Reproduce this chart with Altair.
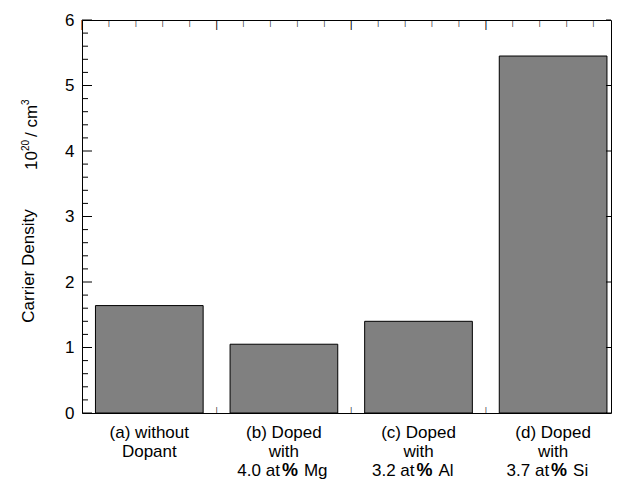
import altair as alt
import pandas as pd

# ---- data ----
categories = ["a", "b", "c", "d"]
line1 = ["(a) without", "(b) Doped", "(c) Doped", "(d) Doped"]
line2 = ["Dopant", "with", "with", "with"]
amount = ["", "4.0 at", "3.2 at", "3.7 at"]
element = ["", "Mg", "Al", "Si"]
density = [1.64, 1.05, 1.40, 5.45]

y_major = [0, 1, 2, 3, 4, 5, 6]
y_minor = [round(i * 0.2, 1) for i in range(31) if i % 5]
x_minor_offsets = [0.2, 0.4, 0.6, 0.8]   # minor ticks inside each category slot

y_title = "Carrier Density"
unit_base, unit_exp, unit_mid, unit_exp2 = "10", "20", "/ cm", "3"

FONT = "Liberation Sans"
FS = 17
W, H = 529, 393
XMAX, YMAX = 3.93, 6

df = pd.DataFrame({
    "cat": categories,
    "idx": list(range(len(categories))),
    "line1": line1,
    "line2": line2,
    "amount": amount,
    "element": element,
    "density": density,
})
df["label12"] = df["line1"] + "\n" + df["line2"]

base = alt.Chart(df).transform_calculate(
    center="datum.idx + 0.5", x0="datum.idx + 0.1", x1="datum.idx + 0.9"
)

xscale = alt.Scale(domain=[0, XMAX], nice=False, zero=False)
yscale = alt.Scale(domain=[0, YMAX], nice=False, zero=True)

label_axis = alt.Axis(orient="left", values=y_major, ticks=False, domain=False,
                      grid=False, title=None, labelFont=FONT, labelFontSize=FS,
                      labelColor="black", labelPadding=8)

bars = base.mark_bar(color="#808080", stroke="black", strokeWidth=1).encode(
    x=alt.X("x0:Q", scale=xscale, axis=None),
    x2="x1:Q",
    y=alt.Y("density:Q", scale=yscale, axis=label_axis),
    y2=alt.datum(0),
)


def yticks(values, a, b):
    return alt.Chart(pd.DataFrame({"v": values})).mark_rule(
        color="black", strokeWidth=1).encode(
        y=alt.Y("v:Q", scale=yscale, axis=label_axis),
        x=alt.value(a), x2=alt.value(b))


# x ticks: drawn as "|" glyphs placed through the x scale
def xticks(chart, ycenter, size):
    return chart.mark_text(text="|", font=FONT, fontSize=size, align="center",
                           baseline="middle", color="black").encode(
        x=alt.X("tv:Q", scale=xscale, axis=None),
        y=alt.value(ycenter))


top_major = xticks(base.transform_calculate(tv="datum.idx"), 5, 11)
top_minor = xticks(
    base.transform_calculate(m=str(x_minor_offsets))
    .transform_flatten(["m"]).transform_calculate(tv="datum.idx + datum.m"), 3, 7)
bottom = xticks(
    base.transform_filter("datum.idx > 0").transform_calculate(tv="datum.idx"),
    H - 3, 7)

tick_layers = [
    top_major, top_minor, bottom,
    yticks(y_major, 0, 10),
    yticks(y_minor, 0, 6),
    yticks(y_major, W - 5, W),
]

lab12 = base.mark_text(font=FONT, fontSize=FS, lineBreak="\n", lineHeight=19,
                       align="center", baseline="alphabetic", color="black").encode(
    x=alt.X("center:Q", scale=xscale, axis=None),
    y=alt.value(418),
    text="label12:N",
)

l3 = base.transform_filter("datum.element != ''")
L3Y = 456
lab3a = l3.mark_text(font=FONT, fontSize=FS, align="right", baseline="alphabetic",
                     dx=-4, color="black").encode(
    x=alt.X("center:Q", scale=xscale, axis=None), y=alt.value(L3Y), text="amount:N")
lab3b = l3.mark_text(font=FONT, fontSize=18, fontWeight="bold", align="center",
                     baseline="alphabetic", dx=6, color="black").encode(
    x=alt.X("center:Q", scale=xscale, axis=None), y=alt.value(L3Y), text=alt.value("%"))
lab3c = l3.mark_text(font=FONT, fontSize=FS, align="left", baseline="alphabetic",
                     dx=20, color="black").encode(
    x=alt.X("center:Q", scale=xscale, axis=None), y=alt.value(L3Y), text="element:N")

tdf = pd.DataFrame({"t": [y_title], "u0": [unit_base], "u1": [unit_exp],
                    "u2": [unit_mid], "u3": [unit_exp2]})
tbase = alt.Chart(tdf)
ytitle = tbase.mark_text(font=FONT, fontSize=FS, angle=270, align="center",
                         baseline="alphabetic", color="black").encode(
    x=alt.value(-48), y=alt.value(246), text="t:N")
u0 = tbase.mark_text(font=FONT, fontSize=FS, angle=270, align="left",
                     baseline="alphabetic", color="black").encode(
    x=alt.value(-45), y=alt.value(150), text="u0:N")
u1 = tbase.mark_text(font=FONT, fontSize=10, angle=270, align="left",
                     baseline="alphabetic", dx=19, dy=-8, color="black").encode(
    x=alt.value(-45), y=alt.value(150), text="u1:N")
u2 = tbase.mark_text(font=FONT, fontSize=FS, angle=270, align="left",
                     baseline="alphabetic", dx=33, color="black").encode(
    x=alt.value(-45), y=alt.value(150), text="u2:N")
u3 = tbase.mark_text(font=FONT, fontSize=10, angle=270, align="left",
                     baseline="alphabetic", dx=65, dy=-8, color="black").encode(
    x=alt.value(-45), y=alt.value(150), text="u3:N")

chart = alt.layer(
    bars, *tick_layers, lab12, lab3a, lab3b, lab3c, ytitle, u0, u1, u2, u3
).properties(
    width=W, height=H,
    padding={"left": 74, "top": 12, "right": 1, "bottom": 67},
    autosize=alt.AutoSizeParams(type="none"),
    background="white",
).configure_view(stroke="black", strokeWidth=1)

chart.save("out.html", embed_options={"renderer": "svg", "actions": False})
